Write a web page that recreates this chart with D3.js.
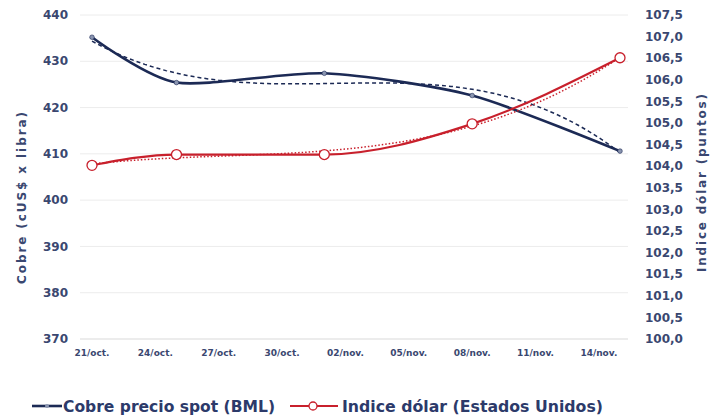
<!DOCTYPE html>
<html><head><meta charset="utf-8">
<script src="https://cdn.jsdelivr.net/npm/d3@7"></script>
<style>body{margin:0;background:#fff}svg{display:block}</style>
</head><body>
<svg id="c" width="719" height="417"></svg>
<script>
const dates = ["2019-10-21","2019-10-25","2019-11-01","2019-11-08","2019-11-15"];
const copper = [435.2, 425.4, 427.4, 422.6, 410.6];
const dollar = [104.02, 104.27, 104.27, 104.98, 106.51];
const leftTicks = [370,380,390,400,410,420,430,440];
const rightTicks = [100,100.5,101,101.5,102,102.5,103,103.5,104,104.5,105,105.5,106,106.5,107,107.5];
const xTickDates = ["2019-10-21","2019-10-24","2019-10-27","2019-10-30","2019-11-02","2019-11-05","2019-11-08","2019-11-11","2019-11-14"];
const seriesNames = ["Cobre precio spot (BML)","Indice dólar (Estados Unidos)"];
const axisTitles = ["Cobre (cUS$ x libra)","Indice dólar (puntos)"];

const parse = d3.timeParse("%Y-%m-%d");
const D = dates.map(parse);
const svg = d3.select("#c");
const font = "'DejaVu Sans', Verdana, sans-serif";
const txt = "#3a4770";

const x = d3.scaleTime().domain([parse("2019-10-21"), parse("2019-11-15")]).range([92, 620]);
const yL = d3.scaleLinear().domain([370,440]).range([339,15]);
const yR = d3.scaleLinear().domain([100,107.5]).range([339,15]);

// gridlines
svg.append("g").selectAll("line").data(leftTicks).join("line")
  .attr("x1",80).attr("x2",628).attr("y1",d=>yL(d)).attr("y2",d=>yL(d))
  .attr("stroke",d=>d===370?"#d9d9d9":"#ececec").attr("stroke-width",1);

// left axis labels
svg.append("g").selectAll("text").data(leftTicks).join("text")
  .attr("x",68).attr("y",d=>yL(d)).attr("dy","0.35em").attr("text-anchor","end")
  .attr("font-family",font).attr("font-weight","bold").attr("font-size",12).attr("fill",txt)
  .text(d=>d);

// right axis labels
const fmtR = d=>d.toFixed(1).replace(".",",");
svg.append("g").selectAll("text").data(rightTicks).join("text")
  .attr("x",645).attr("y",d=>yR(d)).attr("dy","0.35em").attr("text-anchor","start")
  .attr("font-family",font).attr("font-weight","bold").attr("font-size",12).attr("fill",txt)
  .text(fmtR);

// x labels
const fmtX = d3.timeFormat("%d");
const mon = d=> d.getMonth()===9 ? "oct." : "nov.";
svg.append("g").selectAll("text").data(xTickDates.map(parse)).join("text")
  .attr("x",d=>x(d)).attr("y",356).attr("text-anchor","middle")
  .attr("font-family",font).attr("font-weight","bold").attr("font-size",9).attr("fill",txt)
  .text(d=>fmtX(d)+"/"+mon(d));

// axis titles
svg.append("text").attr("transform","translate(26,198) rotate(-90)").attr("text-anchor","middle")
  .attr("font-family",font).attr("font-weight","bold").attr("font-size",12).attr("fill",txt)
  .attr("textLength",172).attr("lengthAdjust","spacing")
  .text(axisTitles[0]);
svg.append("text").attr("transform","translate(706,183) rotate(-90)").attr("text-anchor","middle")
  .attr("font-family",font).attr("font-weight","bold").attr("font-size",12).attr("fill",txt)
  .attr("textLength",178).attr("lengthAdjust","spacing")
  .text(axisTitles[1]);

// cubic least-squares trend computed from the data
function cubicFit(xs, ys){
  const n=4, A=[...Array(n)].map(()=>Array(n+1).fill(0));
  xs.forEach((xv,k)=>{ for(let i=0;i<n;i++){ for(let j=0;j<n;j++) A[i][j]+=Math.pow(xv,i+j); A[i][n]+=ys[k]*Math.pow(xv,i);} });
  for(let i=0;i<n;i++){ let p=i; for(let r=i+1;r<n;r++) if(Math.abs(A[r][i])>Math.abs(A[p][i])) p=r; [A[i],A[p]]=[A[p],A[i]];
    for(let r=0;r<n;r++){ if(r===i) continue; const f=A[r][i]/A[i][i]; for(let c=i;c<=n;c++) A[r][c]-=f*A[i][c]; } }
  const c=A.map((row,i)=>row[n]/row[i]);
  return t=>c[0]+c[1]*t+c[2]*t*t+c[3]*t*t*t;
}
const t0 = D[0].getTime(), day=86400000;
const ts = D.map(d=>(d.getTime()-t0)/day/10);
const fC = cubicFit(ts, copper), fD = cubicFit(ts, dollar);
const tGrid = d3.range(0, 2.5001, 0.05);
const trendLine = (f,y)=>d3.line().x(t=>x(new Date(t0+t*10*day))).y(t=>y(f(t)))(tGrid);

// main lines
const curve = d3.curveCardinal.tension(0.25);
const lineC = d3.line().x((d,i)=>x(D[i])).y(d=>yL(d)).curve(curve);
const lineD = d3.line().x((d,i)=>x(D[i])).y(d=>yR(d)).curve(d3.curveMonotoneX);

svg.append("path").attr("d",lineC(copper)).attr("fill","none").attr("stroke","#1c2a55").attr("stroke-width",2.6);
svg.append("path").attr("d",trendLine(fC,yL)).attr("fill","none").attr("stroke","#1c2a55").attr("stroke-width",1.5).attr("stroke-dasharray","4,3");
svg.append("path").attr("d",lineD(dollar)).attr("fill","none").attr("stroke","#c8202c").attr("stroke-width",2.2);
svg.append("path").attr("d",trendLine(fD,yR)).attr("fill","none").attr("stroke","#c8202c").attr("stroke-width",1.5).attr("stroke-dasharray","1.5,2");

// markers
svg.append("g").selectAll("circle").data(copper).join("circle")
  .attr("cx",(d,i)=>x(D[i])).attr("cy",d=>yL(d)).attr("r",2.3)
  .attr("fill","#8a95b0").attr("stroke","#1c2a55").attr("stroke-width",0.6);
svg.append("g").selectAll("circle").data(dollar).join("circle")
  .attr("cx",(d,i)=>x(D[i])).attr("cy",d=>yR(d)).attr("r",5)
  .attr("fill","#fff").attr("stroke","#c8202c").attr("stroke-width",1.3);

// legend
const lg = svg.append("g").attr("font-family",font).attr("font-weight","bold").attr("font-size",15.5).attr("fill","#2c3a6a");
lg.append("line").attr("x1",32).attr("x2",62).attr("y1",406).attr("y2",406).attr("stroke","#1c2a55").attr("stroke-width",2.6);
lg.append("circle").attr("cx",47).attr("cy",406).attr("r",2).attr("fill","#8a95b0");
lg.append("text").attr("x",63).attr("y",412).attr("textLength",212).attr("lengthAdjust","spacingAndGlyphs").text(seriesNames[0]);
lg.append("line").attr("x1",290).attr("x2",338).attr("y1",406).attr("y2",406).attr("stroke","#c8202c").attr("stroke-width",2.2);
lg.append("circle").attr("cx",313).attr("cy",406).attr("r",4).attr("fill","#fff").attr("stroke","#c8202c").attr("stroke-width",1.3);
lg.append("text").attr("x",342).attr("y",412).attr("textLength",261).attr("lengthAdjust","spacingAndGlyphs").text(seriesNames[1]);
</script>
</body></html>
